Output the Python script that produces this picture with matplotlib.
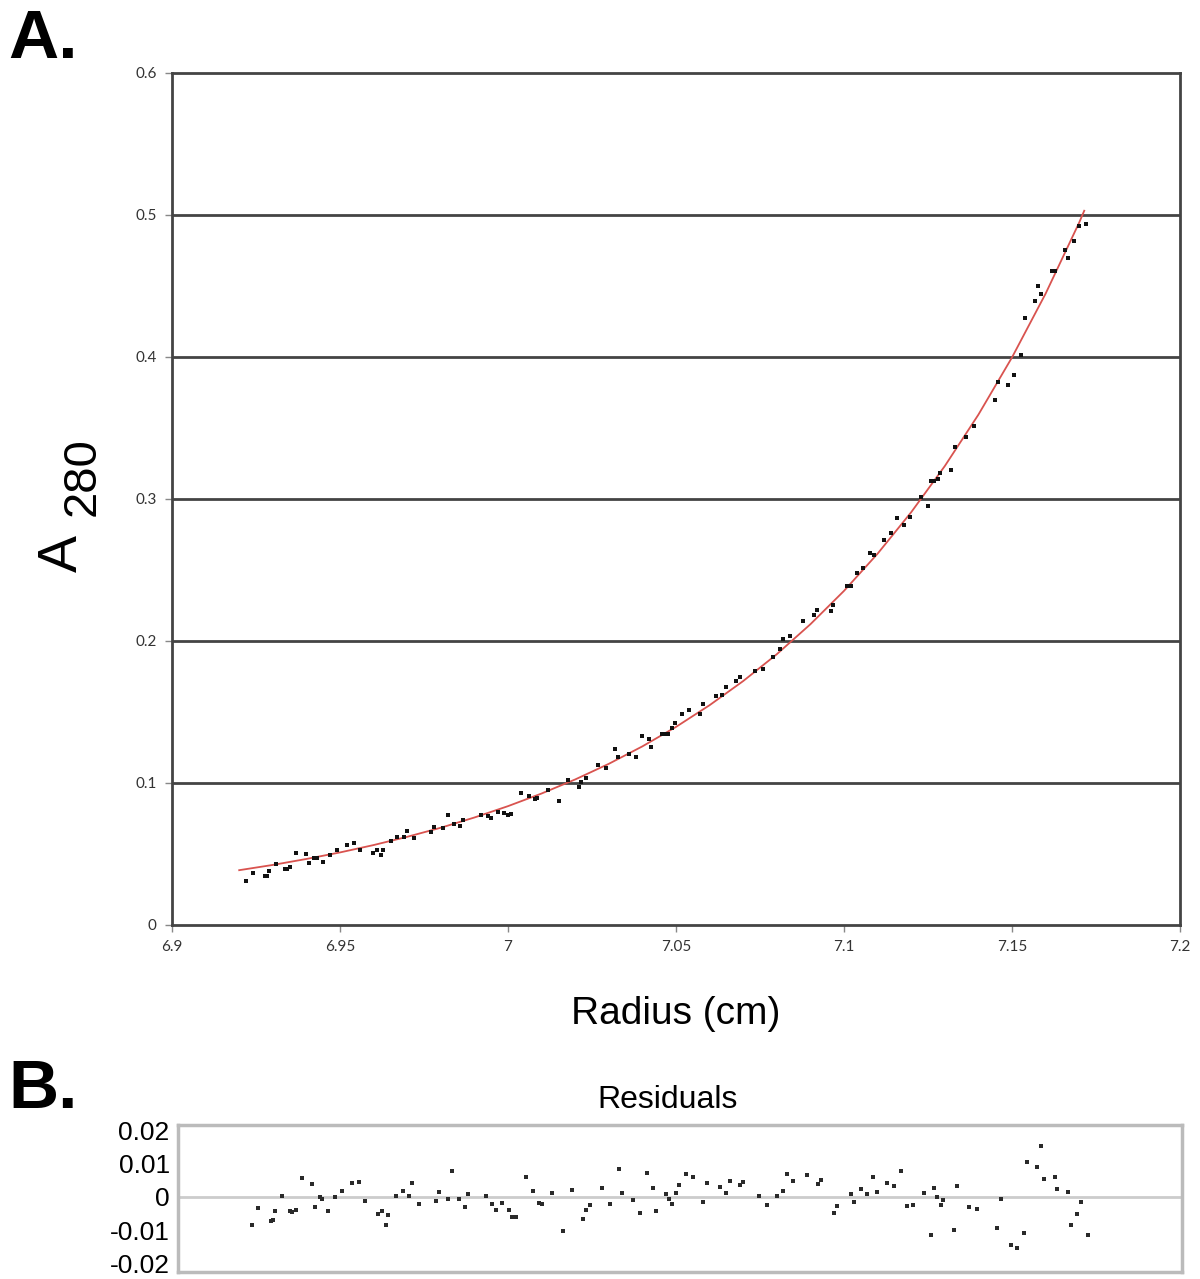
import numpy as np
import matplotlib
matplotlib.use("Agg")
import matplotlib.pyplot as plt

plt.rcParams['font.family'] = ['Liberation Sans', 'DejaVu Sans']

# radius (cm) of each scan point
radius = [6.9220, 6.9240, 6.9277, 6.9284, 6.9290, 6.9310, 6.9335, 6.9342, 6.9352, 6.9370,
          6.9400, 6.9409, 6.9424, 6.9431, 6.9449, 6.9469, 6.9491, 6.9521, 6.9541, 6.9559,
          6.9599, 6.9609, 6.9621, 6.9628, 6.9651, 6.9671, 6.9690, 6.9700, 6.9720, 6.9770,
          6.9780, 6.9808, 6.9820, 6.9840, 6.9858, 6.9867, 6.9919, 6.9939, 6.9949, 6.9969,
          6.9989, 6.9999, 7.0009, 7.0039, 7.0062, 7.0079, 7.0087, 7.0118, 7.0151, 7.0178,
          7.0211, 7.0218, 7.0231, 7.0268, 7.0291, 7.0318, 7.0328, 7.0360, 7.0380, 7.0400,
          7.0420, 7.0427, 7.0457, 7.0467, 7.0477, 7.0487, 7.0497, 7.0517, 7.0540, 7.0570,
          7.0580, 7.0620, 7.0637, 7.0649, 7.0679, 7.0689, 7.0736, 7.0759, 7.0789, 7.0809,
          7.0819, 7.0839, 7.0879, 7.0911, 7.0920, 7.0961, 7.0968, 7.1010, 7.1020, 7.1040,
          7.1058, 7.1078, 7.1090, 7.1118, 7.1139, 7.1159, 7.1179, 7.1197, 7.1229, 7.1249,
          7.1259, 7.1269, 7.1279, 7.1287, 7.1319, 7.1329, 7.1364, 7.1388, 7.1448, 7.1458,
          7.1488, 7.1506, 7.1528, 7.1538, 7.1568, 7.1578, 7.1587, 7.1620, 7.1627, 7.1658,
          7.1667, 7.1685, 7.1698, 7.1719]

# measured absorbance at 280 nm
absorbance = [0.0308, 0.0368, 0.0342, 0.0347, 0.0377, 0.0429, 0.0396, 0.0396, 0.0405, 0.0508,
              0.0502, 0.0439, 0.0474, 0.0474, 0.0445, 0.0495, 0.0525, 0.0562, 0.0577, 0.0530,
              0.0510, 0.0526, 0.0490, 0.0526, 0.0595, 0.0621, 0.0617, 0.0661, 0.0614, 0.0654,
              0.0687, 0.0686, 0.0776, 0.0709, 0.0697, 0.0741, 0.0774, 0.0766, 0.0756, 0.0794,
              0.0788, 0.0776, 0.0785, 0.0930, 0.0909, 0.0890, 0.0892, 0.0954, 0.0874, 0.1022,
              0.0972, 0.1007, 0.1034, 0.1127, 0.1103, 0.1239, 0.1181, 0.1201, 0.1186, 0.1330,
              0.1310, 0.1252, 0.1344, 0.1345, 0.1343, 0.1389, 0.1426, 0.1489, 0.1516, 0.1487,
              0.1559, 0.1610, 0.1623, 0.1678, 0.1717, 0.1744, 0.1789, 0.1805, 0.1889, 0.1944,
              0.2015, 0.2037, 0.2139, 0.2182, 0.2215, 0.2213, 0.2250, 0.2386, 0.2390, 0.2480,
              0.2512, 0.2617, 0.2604, 0.2710, 0.2762, 0.2865, 0.2820, 0.2875, 0.3013, 0.2951,
              0.3124, 0.3129, 0.3141, 0.3182, 0.3201, 0.3369, 0.3434, 0.3516, 0.3695, 0.3823,
              0.3804, 0.3871, 0.4015, 0.4273, 0.4393, 0.4499, 0.4441, 0.4606, 0.4603, 0.4750,
              0.4697, 0.4820, 0.4922, 0.4940]

# residuals of the fit
residuals = [-0.0085, -0.0033, -0.0072, -0.0070, -0.0042, 0.0002, -0.0042, -0.0045, -0.0040, 0.0055,
             0.0037, -0.0030, -0.0002, -0.0005, -0.0043, -0.0002, 0.0018, 0.0040, 0.0045, -0.0012,
             -0.0052, -0.0042, -0.0085, -0.0053, 0.0003, 0.0017, 0.0002, 0.0040, -0.0020, -0.0012,
             0.0015, -0.0005, 0.0077, -0.0005, -0.0030, 0.0008, 0.0002, -0.0022, -0.0040, -0.0018,
             -0.0040, -0.0060, -0.0060, 0.0058, 0.0017, -0.0017, -0.0022, 0.0010, -0.0102, 0.0020,
             -0.0065, -0.0038, -0.0025, 0.0027, -0.0022, 0.0082, 0.0012, -0.0008, -0.0047, 0.0072,
             0.0025, -0.0043, 0.0008, -0.0005, -0.0020, 0.0012, 0.0035, 0.0068, 0.0060, -0.0015,
             0.0042, 0.0028, 0.0012, 0.0047, 0.0035, 0.0045, 0.0003, -0.0025, 0.0002, 0.0018,
             0.0068, 0.0048, 0.0065, 0.0038, 0.0050, -0.0048, -0.0028, 0.0007, -0.0015, 0.0022,
             0.0007, 0.0060, 0.0015, 0.0042, 0.0033, 0.0078, -0.0026, -0.0023, 0.0012, -0.0115,
             0.0025, -0.0002, -0.0023, -0.0008, -0.0100, 0.0032, -0.0030, -0.0035, -0.0092, -0.0005,
             -0.0145, -0.0153, -0.0108, 0.0105, 0.0090, 0.0152, 0.0053, 0.0060, 0.0022, 0.0013,
             -0.0085, -0.0052, -0.0015, -0.0113]

# fitted curve
fit_r = [6.92, 6.93, 6.94, 6.95, 6.96, 6.97, 6.98, 6.99, 7.00, 7.01, 7.02, 7.03, 7.04,
         7.05, 7.06, 7.07, 7.08, 7.09, 7.10, 7.11, 7.12, 7.13, 7.14, 7.15, 7.16, 7.17, 7.1715]
fit_a = [0.0386, 0.0423, 0.0465, 0.0511, 0.0563, 0.0621, 0.0685, 0.0757, 0.0837, 0.0926,
         0.1025, 0.1135, 0.1258, 0.1395, 0.1548, 0.1718, 0.1907, 0.2118, 0.2353, 0.2615,
         0.2907, 0.3232, 0.3594, 0.3997, 0.4446, 0.4947, 0.5030]

xticks = [6.9, 6.95, 7.0, 7.05, 7.1, 7.15, 7.2]
xtick_labels = ['6.9', '6.95', '7', '7.05', '7.1', '7.15', '7.2']
yticks = [0, 0.1, 0.2, 0.3, 0.4, 0.5, 0.6]
ytick_labels = ['0', '0.1', '0.2', '0.3', '0.4', '0.5', '0.6']
res_ticks = [-0.02, -0.01, 0, 0.01, 0.02]
res_labels = ['-0.02', '-0.01', '0', '0.01', '0.02']

W, H = 1200, 1279
fig = plt.figure(figsize=(W / 100, H / 100), dpi=100)


def box(x0, y0, x1, y1):
    # pixel box (top-left origin) -> figure fraction rect
    return [x0 / W, 1 - y1 / H, (x1 - x0) / W, (y1 - y0) / H]


# ---- panel A ----
ax = fig.add_axes(box(172, 73, 1180, 925))
for y in yticks[1:-1]:
    ax.axhline(y, color='#444444', lw=2.0, zorder=1)
ax.plot(fit_r, fit_a, color='#d9534f', lw=1.3, zorder=2)
ax.scatter(radius, absorbance, s=9, marker='s', color='#111111', lw=0, zorder=3)
ax.set_xlim(6.9, 7.2)
ax.set_ylim(0, 0.6)
ax.set_xticks(xticks)
ax.set_xticklabels(xtick_labels)
ax.set_yticks(yticks)
ax.set_yticklabels(ytick_labels)
ax.tick_params(direction='out', length=5, width=1, color='#888888',
               labelsize=11, labelcolor='#333333', pad=6)
for lab in ax.get_xticklabels() + ax.get_yticklabels():
    lab.set_family(['Lato', 'DejaVu Sans'])
for sp in ax.spines.values():
    sp.set_color('#444444')
    sp.set_linewidth(2.0)
ax.set_xlabel('Radius (cm)', fontsize=28, labelpad=30)

fig.text(63 / W, 1 - 553 / H, 'A', fontsize=40, rotation=90, ha='center', va='center')
fig.text(83 / W, 1 - 477 / H, '280', fontsize=34, rotation=90, ha='center', va='center')
fig.text(8 / W, 1 - 40 / H, 'A.', fontsize=50, fontweight='bold', ha='left', va='center')

# ---- panel B ----
axr = fig.add_axes(box(178, 1125, 1182, 1272))
axr.axhline(0, color='#cccccc', lw=2.0, zorder=1)
axr.scatter(radius, residuals, s=10, marker='s', color='#2a2a2a', lw=0, zorder=3)
axr.set_xlim(6.9, 7.2)
axr.set_ylim(-0.0225, 0.0215)
axr.set_xticks([])
axr.set_yticks(res_ticks)
axr.set_yticklabels(res_labels)
axr.tick_params(axis='y', length=0, labelsize=19, pad=6)
for sp in axr.spines.values():
    sp.set_color('#bbbbbb')
    sp.set_linewidth(2.5)
axr.set_title('Residuals', fontsize=23, pad=12, x=0.488)

fig.text(8 / W, 1 - 1090 / H, 'B.', fontsize=50, fontweight='bold', ha='left', va='center')

fig.savefig('out.png', dpi=100, facecolor='white')
